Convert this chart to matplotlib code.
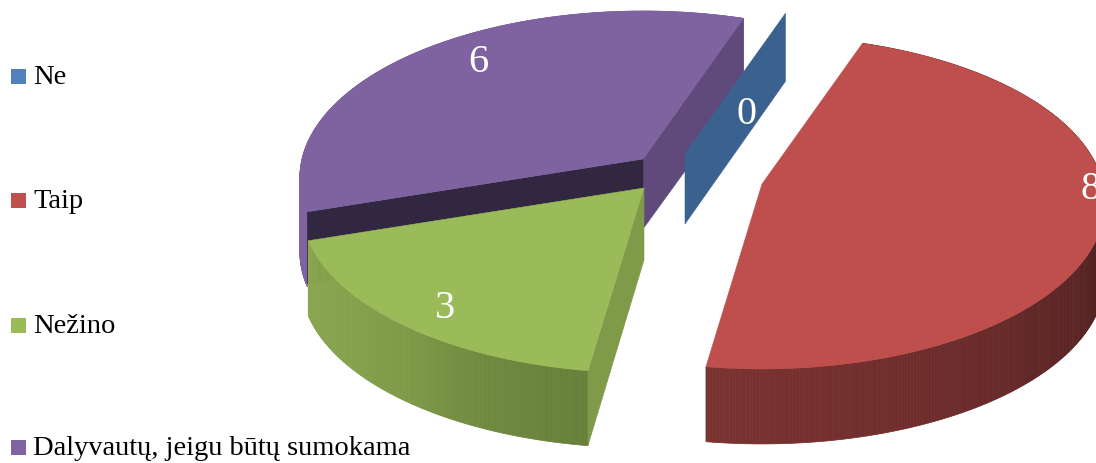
import numpy as np
import matplotlib
matplotlib.use("Agg")
import matplotlib.pyplot as plt
from matplotlib.patches import Polygon, Rectangle
from matplotlib.collections import PolyCollection
from matplotlib.colors import to_rgb

# ---- data
categories = ["Ne", "Taip", "Nežino", "Dalyvautų, jeigu būtų sumokama"]
values = [0, 8, 3, 6]

# ---- style / layout
first_angle = 19.0
top_colors = ["#3b628f", "#be4f4c", "#9bba59", "#7f63a1"]
legend_colors = ["#4f81bd", "#c0504d", "#9bbb59", "#8064a2"]
cut_colors = {0: "#3b628f", 2: "#7f9a48", 3: "#604a7b"}
inner_dark = "#322740"
wall_grad = {
    1: ["#7a3230", "#6a2b2a", "#4f1f1f", "#4a1e1e", "#4a1e1e"],
    2: ["#66803a", "#70893f", "#7f9a48", "#86a24d", "#8aa650"],
    3: ["#7f63a1", "#7f63a1"],
}
centres = {0: (685, 155), 1: (762, 185), 2: (644, 189), 3: (643, 160)}
label_pos = {0: (747, 115), 1: (1091, 190), 2: (445, 309), 3: (478, 62)}
legend_y = [78, 202, 327, 449]
A, B, K = 341.0, 164.4, 0.111
DEPTH = 72.0


def project(angle, c):
    t = np.radians(angle)
    u, v = np.sin(t), -np.cos(t)
    s = 1.0 / (1.0 - K * v)
    return c[0] + A * u * s, c[1] + B * v * s


def grad(stops, n):
    rgb = np.array([to_rgb(x) for x in stops])
    pos = np.linspace(0, 1, len(stops))
    f = np.linspace(0, 1, n)
    return np.column_stack([np.interp(f, pos, rgb[:, i]) for i in range(3)])


fig = plt.figure(figsize=(10.96, 4.64), dpi=100)
ax = fig.add_axes([0, 0, 1, 1])
ax.set_xlim(0, 1096)
ax.set_ylim(464, 0)
ax.axis("off")

total = sum(values)
spans = [v / total * 360 for v in values]
starts = first_angle + np.concatenate([[0], np.cumsum(spans)[:-1]])


def draw_slice(i):
    c = centres[i]
    a0, a1 = starts[i], starts[i] + spans[i]
    if spans[i] == 0:
        p = project(a0, c)
        ax.add_patch(Polygon([c, p, (p[0], p[1] + DEPTH - 4), (c[0], c[1] + DEPTH - 2)],
                             fc=cut_colors[i], ec=cut_colors[i], lw=0.4, zorder=i + 1))
        return
    angs = np.linspace(a0, a1, int(spans[i] * 2) + 2)
    xs, ys = project(angs, c)
    # outer wall
    quads = [[(xs[j], ys[j]), (xs[j + 1], ys[j + 1]),
              (xs[j + 1], ys[j + 1] + DEPTH + 3), (xs[j], ys[j] + DEPTH + 3)]
             for j in range(len(xs) - 1)]
    cols = grad(wall_grad[i][::-1] if i == 1 else wall_grad[i], len(quads))
    if i == 1:
        cols = cols[::1]
    ax.add_collection(PolyCollection(quads, facecolors=cols, edgecolors=cols, linewidths=0.5,
                                     zorder=z[i]))
    # cut faces
    if i == 3:
        p = project(a1, c)
        ax.add_patch(Polygon([c, p, (p[0], p[1] + DEPTH), (c[0], c[1] + DEPTH - 2)],
                             fc=cut_colors[3], ec=cut_colors[3], lw=0.4, zorder=z[i]))
        q = project(a0, c)
        ax.add_patch(Polygon([c, q, (q[0], q[1] + DEPTH), (c[0], c[1] + DEPTH)],
                             fc=inner_dark, ec=inner_dark, lw=0.4, zorder=z[i]))
    if i == 2:
        p = project(a0, c)
        ax.add_patch(Polygon([c, p, (p[0], p[1] + DEPTH + 3), (c[0], c[1] + DEPTH)],
                             fc=cut_colors[2], ec=cut_colors[2], lw=0.4, zorder=z[i]))
    # top
    ax.add_patch(Polygon(np.vstack([[c], np.column_stack([xs, ys])]), fc=top_colors[i],
                         ec=top_colors[i], lw=0.4, zorder=z[i] + 0.5))


z = {3: 1, 0: 2, 2: 3, 1: 4}
for i in [3, 0, 2, 1]:
    draw_slice(i)
for i, val in enumerate(values):
    ax.text(*label_pos[i], str(val), color="white", family="Liberation Serif", fontsize=29,
            ha="center", va="center", zorder=10, clip_on=True)

for cat, col, y in zip(categories, legend_colors, legend_y):
    ax.add_patch(Rectangle((11, y - 8), 15, 15, fc=col, ec="none", zorder=10))
    ax.text(33, y, cat, color="#000000", family="Liberation Serif", fontsize=20.5,
            ha="left", va="center", zorder=10)

fig.savefig("out.png", dpi=100)
